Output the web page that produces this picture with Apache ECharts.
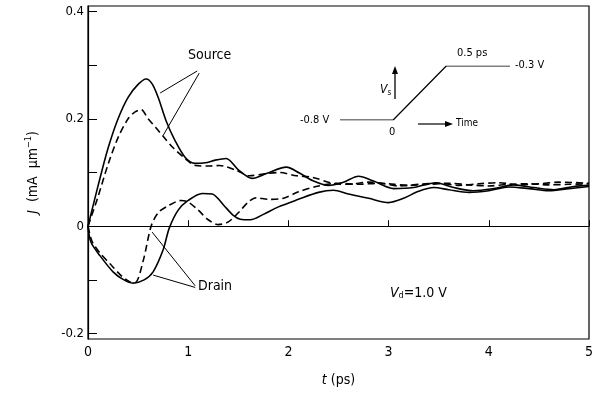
<!DOCTYPE html>
<html>
<head>
<meta charset="utf-8">
<script src="https://cdn.jsdelivr.net/npm/echarts@6/dist/echarts.min.js"></script>
<style>
  html, body { margin: 0; padding: 0; background: #fff; }
  #chart { width: 596px; height: 396px; }
</style>
</head>
<body>
<div id="chart"></div>
<script>
// 源极 实线
var sourceSolidT = [0, 0.1, 0.2, 0.3, 0.4, 0.5, 0.58, 0.64, 0.7, 0.78, 0.87, 0.97, 1.07, 1.17, 1.27, 1.38, 1.5, 1.64, 1.78, 1.98, 2.11, 2.24, 2.4, 2.55, 2.7, 2.85, 3.05, 3.25, 3.47, 3.65, 3.85, 4.05, 4.25, 4.45, 4.65, 4.85, 5.0];
var sourceSolidJ = [0, 0.075, 0.145, 0.2, 0.24, 0.264, 0.274, 0.265, 0.24, 0.196, 0.159, 0.128, 0.117, 0.118, 0.123, 0.126, 0.105, 0.089, 0.098, 0.11, 0.099, 0.085, 0.076, 0.082, 0.093, 0.084, 0.07, 0.072, 0.081, 0.072, 0.066, 0.07, 0.077, 0.072, 0.068, 0.074, 0.076];

// 源极 虚线
var sourceDashT = [0, 0.1, 0.2, 0.3, 0.4, 0.47, 0.53, 0.6, 0.68, 0.76, 0.85, 0.97, 1.07, 1.2, 1.31, 1.48, 1.61, 1.78, 1.91, 2.08, 2.24, 2.44, 2.6, 2.8, 3.0, 3.2, 3.4, 3.6, 3.8, 4.0, 4.2, 4.4, 4.6, 4.8, 5.0];
var sourceDashJ = [0, 0.055, 0.115, 0.165, 0.2, 0.213, 0.217, 0.2, 0.183, 0.165, 0.146, 0.126, 0.113, 0.112, 0.113, 0.104, 0.094, 0.098, 0.1, 0.094, 0.091, 0.08, 0.078, 0.082, 0.079, 0.076, 0.078, 0.08, 0.077, 0.075, 0.078, 0.079, 0.077, 0.078, 0.079];

// 漏极 实线
var drainSolidT = [0, 0.03, 0.12, 0.25, 0.35, 0.45, 0.56, 0.65, 0.75, 0.81, 0.9, 1.0, 1.14, 1.24, 1.35, 1.45, 1.52, 1.62, 1.75, 1.9, 2.1, 2.3, 2.45, 2.6, 2.8, 3.0, 3.15, 3.3, 3.45, 3.6, 3.8, 4.0, 4.2, 4.4, 4.6, 4.8, 5.0];
var drainSolidJ = [0, -0.03, -0.055, -0.085, -0.099, -0.106, -0.1, -0.085, -0.044, -0.004, 0.03, 0.048, 0.061, 0.06, 0.04, 0.02, 0.013, 0.012, 0.022, 0.036, 0.05, 0.063, 0.067, 0.06, 0.052, 0.044, 0.052, 0.065, 0.072, 0.068, 0.063, 0.066, 0.073, 0.07, 0.066, 0.07, 0.074];

// 漏极 虚线
var drainDashT = [0, 0.04, 0.12, 0.22, 0.32, 0.42, 0.47, 0.55, 0.63, 0.7, 0.8, 0.93, 1.0, 1.1, 1.2, 1.3, 1.4, 1.5, 1.6, 1.68, 1.8, 1.95, 2.1, 2.3, 2.5, 2.7, 2.9, 3.1, 3.3, 3.5, 3.7, 3.9, 4.1, 4.3, 4.5, 4.7, 5.0];
var drainDashJ = [0, -0.028, -0.05, -0.07, -0.09, -0.104, -0.105, -0.065, 0, 0.025, 0.038, 0.048, 0.045, 0.03, 0.012, 0.003, 0.008, 0.025, 0.045, 0.053, 0.05, 0.052, 0.064, 0.075, 0.08, 0.078, 0.08, 0.075, 0.078, 0.08, 0.076, 0.079, 0.081, 0.077, 0.079, 0.082, 0.08];

// 插图: 源极电压波形
var insetT = [-0.5, 0, 0.5, 1.1];
var insetV = [-0.8, -0.8, -0.3, -0.3];

var xTicks = [0, 1, 2, 3, 4, 5];
var yLabels = [-0.2, 0, 0.2, 0.4];
var yTicks = [-0.2, -0.1, 0, 0.1, 0.2, 0.3, 0.4];

var FONT = "'Liberation Sans Narrow', 'DejaVu Sans Condensed', 'Liberation Sans', sans-serif";

function pairs(t, v) {
    var out = [];
    for (var i = 0; i < t.length; i++) {
        out.push([t[i], v[i]]);
    }
    return out;
}

var lineBlack = { color: '#000', width: 1.6 };

var chart = echarts.init(document.getElementById('chart'), null, { renderer: 'canvas' });

var option = {
    animation: false,
    backgroundColor: '#fff',
    textStyle: { fontFamily: FONT, color: '#000' },
    grid: [{
        left: 88, right: 5, top: 6, bottom: 57,
        show: true, borderColor: '#000', borderWidth: 1.2
    }, {
        left: 340, top: 66, width: 170, height: 54
    }],
    xAxis: [{
        type: 'value', min: 0, max: 5, interval: 1,
        axisLine: { lineStyle: { color: '#000', width: 1.2 } },
        axisTick: { inside: true, length: 6, lineStyle: { color: '#000' } },
        axisLabel: { color: '#000', fontSize: 14, margin: 6, fontFamily: FONT },
        splitLine: { show: false },
        name: '{i|t} (ps)',
        nameLocation: 'middle',
        nameGap: 34,
        nameTextStyle: {
            fontSize: 14, color: '#000', fontFamily: FONT,
            rich: { i: { fontStyle: 'italic', fontSize: 14, fontFamily: FONT } }
        }
    }, {
        gridIndex: 1, type: 'value', min: -0.5, max: 1.1, show: false
    }],
    yAxis: [{
        type: 'value', min: -0.21, max: 0.41,
        axisLine: { lineStyle: { color: '#000', width: 1.2 } },
        axisTick: { inside: true, length: 9, customValues: yTicks, lineStyle: { color: '#000' } },
        axisLabel: {
            color: '#000', fontSize: 13, margin: 4, fontFamily: FONT,
            customValues: yLabels,
            formatter: function (v) { return Math.abs(v) < 1e-9 ? '0' : v.toFixed(1); }
        },
        splitLine: { show: false },
        name: '{i|J}  (mA  μm{s|−1})',
        nameLocation: 'middle',
        nameGap: 46,
        nameTextStyle: {
            fontSize: 14, color: '#000', fontFamily: FONT,
            rich: {
                i: { fontStyle: 'italic', fontSize: 14, fontFamily: FONT },
                s: { fontSize: 9, fontFamily: FONT, padding: [0, 0, 9, 0] }
            }
        }
    }, {
        gridIndex: 1, type: 'value', min: -0.8, max: -0.3, show: false
    }],
    series: [{
        name: 'Source solid', type: 'line', smooth: 0.3, symbol: 'none',
        data: pairs(sourceSolidT, sourceSolidJ),
        lineStyle: lineBlack,
        markLine: {
            silent: true, symbol: 'none', label: { show: false },
            lineStyle: { color: '#000', width: 1, type: 'solid' },
            data: [
                [{ coord: [1.09, 0.289] }, { coord: [0.72, 0.248] }],
                [{ coord: [1.11, 0.285] }, { coord: [0.75, 0.169] }],
                [{ coord: [1.07, -0.111] }, { coord: [0.64, -0.011] }],
                [{ coord: [1.07, -0.114] }, { coord: [0.65, -0.091] }]
            ]
        }
    }, {
        name: 'Source dashed', type: 'line', smooth: 0.3, symbol: 'none',
        data: pairs(sourceDashT, sourceDashJ),
        lineStyle: { color: '#000', width: 1.6, type: [7, 4] }
    }, {
        name: 'Drain solid', type: 'line', smooth: 0.3, symbol: 'none',
        data: pairs(drainSolidT, drainSolidJ),
        lineStyle: lineBlack,
        markLine: {
            silent: true, symbol: 'none', label: { show: false },
            lineStyle: { color: '#000', width: 1.2, type: 'solid' },
            data: [{ yAxis: 0 }]
        }
    }, {
        name: 'Drain dashed', type: 'line', smooth: 0.3, symbol: 'none',
        data: pairs(drainDashT, drainDashJ),
        lineStyle: { color: '#000', width: 1.6, type: [7, 4] }
    }, {
        name: 'Vs', type: 'line', symbol: 'none',
        xAxisIndex: 1, yAxisIndex: 1,
        data: pairs(insetT, insetV),
        lineStyle: { color: '#000', width: 1.2 }
    }],
    graphic: [
        { type: 'text', left: 188, top: 48, style: { text: 'Source', fontSize: 14, fontFamily: FONT, fill: '#000' } },
        { type: 'text', left: 198, top: 279, style: { text: 'Drain', fontSize: 14, fontFamily: FONT, fill: '#000' } },
        {
            type: 'text', left: 390, top: 286,
            style: {
                text: '{i|V}{s|d}{n|=1.0 V}', fontFamily: FONT, fill: '#000',
                rich: {
                    i: { fontStyle: 'italic', fontSize: 14, fontFamily: FONT },
                    s: { fontSize: 9, fontFamily: FONT, padding: [6, 0, 0, 0] },
                    n: { fontSize: 14, fontFamily: FONT }
                }
            }
        },
        // 插图文字
        { type: 'text', left: 300, top: 115, style: { text: '-0.8 V', fontSize: 11, fontFamily: FONT, fill: '#000' } },
        { type: 'text', left: 515, top: 60, style: { text: '-0.3 V', fontSize: 11, fontFamily: FONT, fill: '#000' } },
        { type: 'text', left: 457, top: 48, style: { text: '0.5 ps', fontSize: 11, fontFamily: FONT, fill: '#000' } },
        { type: 'text', left: 389, top: 127, style: { text: '0', fontSize: 11, fontFamily: FONT, fill: '#000' } },
        {
            type: 'text', left: 380, top: 84,
            style: {
                text: '{i|V}{s|s}', fontFamily: FONT, fill: '#000',
                rich: {
                    i: { fontStyle: 'italic', fontSize: 12, fontFamily: FONT },
                    s: { fontSize: 8, fontFamily: FONT, padding: [5, 0, 0, 0] }
                }
            }
        },
        { type: 'line', shape: { x1: 395, y1: 99, x2: 395, y2: 72 }, style: { stroke: '#000', lineWidth: 1.3 } },
        { type: 'polygon', shape: { points: [[395, 66], [392, 74], [398, 74]] }, style: { fill: '#000' } },
        { type: 'line', shape: { x1: 418, y1: 124, x2: 446, y2: 124 }, style: { stroke: '#000', lineWidth: 1.2 } },
        { type: 'polygon', shape: { points: [[453, 124], [445, 121], [445, 127]] }, style: { fill: '#000' } },
        { type: 'text', left: 456, top: 118, style: { text: 'Time', fontSize: 10, fontFamily: FONT, fill: '#000' } }
    ]
};

chart.setOption(option);
</script>
</body>
</html>
